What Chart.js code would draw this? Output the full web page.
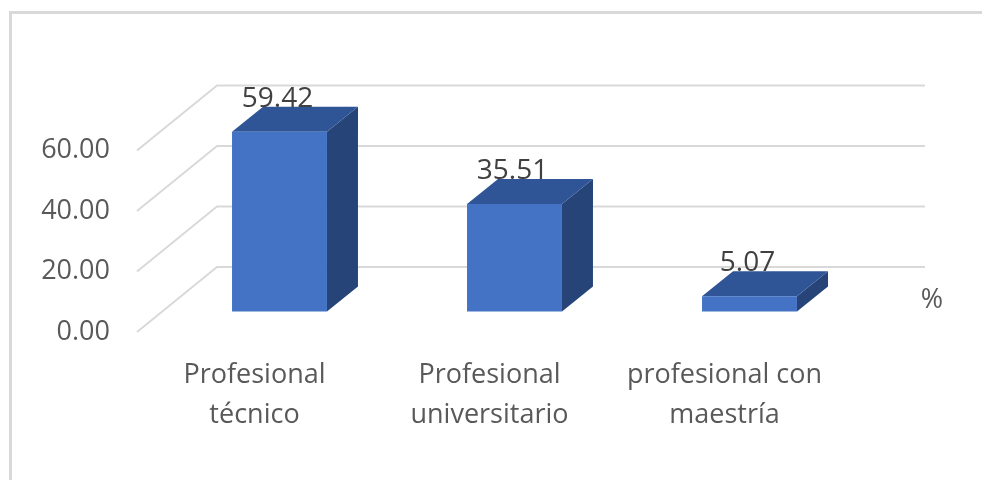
<!DOCTYPE html>
<html>
<head>
<meta charset="utf-8">
<script src="https://cdn.jsdelivr.net/npm/chart.js@4"></script>
<style>
html,body{margin:0;padding:0;background:#fff;width:982px;height:480px;overflow:hidden}
#frame{position:absolute;left:9px;top:11px;width:973px;height:469px;border-left:3px solid #d9d9d9;border-top:3px solid #d9d9d9;box-sizing:border-box}
canvas{position:absolute;left:0;top:0;filter:blur(0.45px)}
</style>
</head>
<body>
<div id="frame"></div>
<canvas id="c" width="982" height="480" style="width:982px;height:480px"></canvas>
<script>
const categories = [['Profesional','técnico'],['Profesional','universitario'],['profesional con','maestría']];
const seriesName = '%';
const seriesValues = [59.42, 35.51, 5.07];
const wallTicks = [0, 20, 40, 60];

const FONT = '"Open Sans", sans-serif';
const wallDX = 80, wallDY = -65, wallExtra = 83;
const barShiftX = 25, sideDX = 31, sideDY = -25;

const threeD = {
  id: 'threeD',
  beforeDatasetsDraw(chart) {
    const ctx = chart.ctx, wall = chart.scales.y, area = chart.chartArea;
    ctx.save();
    ctx.strokeStyle = '#d9d9d9';
    ctx.lineWidth = 2;
    wallTicks.forEach(v => {
      const y = wall.getPixelForValue(v);
      ctx.beginPath();
      ctx.moveTo(area.left, y);
      ctx.lineTo(area.left + wallDX, y + wallDY);
      ctx.lineTo(area.right + wallExtra, y + wallDY);
      ctx.stroke();
    });
    ctx.restore();
    ctx.save();
    ctx.translate(barShiftX, 0);
    chart.getDatasetMeta(0).data.forEach(bar => {
      const l = bar.x - bar.width / 2, r = bar.x + bar.width / 2, t = bar.y, b = bar.base;
      ctx.fillStyle = '#264478';
      ctx.beginPath();
      ctx.moveTo(r, t); ctx.lineTo(r + sideDX, t + sideDY);
      ctx.lineTo(r + sideDX, b + sideDY); ctx.lineTo(r, b);
      ctx.closePath(); ctx.fill();
      ctx.fillStyle = '#2f5597';
      ctx.beginPath();
      ctx.moveTo(l, t); ctx.lineTo(l + sideDX, t + sideDY);
      ctx.lineTo(r + sideDX, t + sideDY); ctx.lineTo(r, t);
      ctx.closePath(); ctx.fill();
    });
  },
  afterDatasetsDraw(chart) {
    const ctx = chart.ctx;
    ctx.restore();
    ctx.save();
    ctx.font = '28px ' + FONT;
    ctx.fillStyle = '#404040';
    ctx.textAlign = 'center';
    ctx.textBaseline = 'middle';
    chart.getDatasetMeta(0).data.forEach((bar, i) => {
      ctx.fillText(seriesValues[i].toFixed(2), bar.x + barShiftX - 2, bar.y - 33);
    });
    ctx.fillStyle = '#595959';
    ctx.font = '27px ' + FONT;
    ctx.fillText(chart.data.datasets[0].label, chart.chartArea.right + 90, 300);
    ctx.restore();
  }
};

new Chart(document.getElementById('c'), {
  type: 'bar',
  data: {
    labels: categories,
    datasets: [{
      label: seriesName,
      data: seriesValues,
      yAxisID: 'yBar',
      backgroundColor: '#4472c4',
      borderWidth: 0,
      barPercentage: 0.404,
      categoryPercentage: 1
    }]
  },
  plugins: [threeD],
  options: {
    responsive: false,
    animation: false,
    devicePixelRatio: 1,
    layout: { padding: { top: 85, right: 140, left: 0, bottom: 0 } },
    plugins: { legend: { display: false }, tooltip: { enabled: false }, title: { display: false } },
    scales: {
      x: {
        grid: { display: false }, border: { display: false },
        ticks: { padding: 15, maxRotation: 0, autoSkip: false, color: '#595959',
                 font: { family: FONT, size: 27, lineHeight: 1.48 } },
        afterFit(s) { s.height = 148; }
      },
      y: {
        position: 'left', min: 0, max: 81.65,
        grid: { display: false }, border: { display: false },
        ticks: { stepSize: 20, padding: 19, color: '#595959',
                 font: { family: FONT, size: 27 },
                 callback: v => wallTicks.includes(v) ? v.toFixed(2) : '' },
        afterFit(s) { s.width = 137; }
      },
      yBar: { display: false, min: -6.78, max: 74.87 }
    }
  }
});
</script>
</body>
</html>
